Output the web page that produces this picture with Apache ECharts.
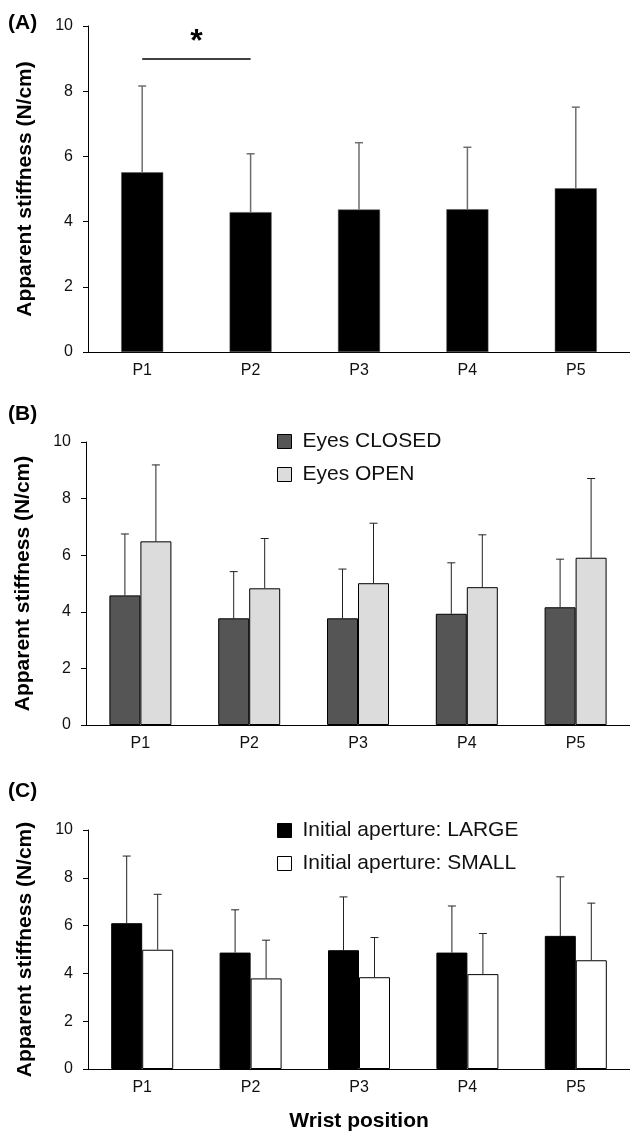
<!DOCTYPE html>
<html>
<head>
<meta charset="utf-8">
<script src="https://cdn.jsdelivr.net/npm/echarts@6/dist/echarts.min.js"></script>
<style>
  html, body { margin: 0; padding: 0; background: #fff; }
  #chart { width: 630px; height: 1133px; }
</style>
</head>
<body>
<div id="chart"></div>
<script>
// wrist positions
const categories = ['P1', 'P2', 'P3', 'P4', 'P5'];
const yTicks = [0, 2, 4, 6, 8, 10];

// (A) all trials: mean and top of error bar
const stiffAll = [5.51, 4.29, 4.37, 4.38, 5.02];
const stiffAllTop = [8.16, 6.08, 6.42, 6.28, 7.51];

// (B) eyes closed / open
const eyesClosed = [4.58, 3.77, 3.77, 3.93, 4.16];
const eyesClosedTop = [6.75, 5.42, 5.51, 5.73, 5.86];
const eyesOpen = [6.49, 4.83, 5.01, 4.87, 5.91];
const eyesOpenTop = [9.19, 6.59, 7.13, 6.72, 8.71];

// (C) initial aperture large / small
const apLarge = [6.10, 4.87, 4.97, 4.87, 5.57];
const apLargeTop = [8.91, 6.66, 7.20, 6.82, 8.04];
const apSmall = [4.99, 3.79, 3.84, 3.97, 4.55];
const apSmallTop = [7.31, 5.39, 5.50, 5.67, 6.94];

// significance P1 vs P2
const sigPair = ['P1', 'P2'];
const sigLevel = 9;

const font = "'Liberation Sans', Arial, Helvetica, sans-serif";
const chart = echarts.init(document.getElementById('chart'));

function errRender(offset, color, width) {
  return function (params, api) {
    const c = api.value(0);
    const hi = api.coord([c, api.value(1)]);
    const lo = api.coord([c, api.value(2)]);
    const x = hi[0] + offset;
    const st = { stroke: color, lineWidth: width };
    return {
      type: 'group',
      children: [
        { type: 'line', shape: { x1: x, y1: lo[1], x2: x, y2: hi[1] }, style: st },
        { type: 'line', shape: { x1: x - 4, y1: hi[1], x2: x + 4, y2: hi[1] }, style: st }
      ]
    };
  };
}

function errSeries(idx, means, tops, offset, color, width) {
  return {
    type: 'custom',
    xAxisIndex: idx,
    yAxisIndex: idx,
    renderItem: errRender(offset, color, width),
    encode: { x: 0, y: [1, 2] },
    data: categories.map((c, i) => [i, tops[i], means[i]]),
    z: 5,
    silent: true
  };
}

const grids = [
  { left: 88, right: 0, top: 26, height: 326 },
  { left: 86, right: 0, top: 442, height: 283 },
  { left: 88, right: 0, top: 830, height: 239 }
];

const xAxes = grids.map((g, i) => ({
  type: 'category',
  gridIndex: i,
  data: categories,
  axisLine: { lineStyle: { color: '#000', width: 1 } },
  axisTick: { alignWithLabel: true, length: 5, lineStyle: { color: '#000' } },
  axisLabel: { fontSize: 16, color: '#111', margin: 11, fontFamily: font },
  name: i === 2 ? 'Wrist position' : '',
  nameLocation: 'middle',
  nameGap: 42,
  nameTextStyle: { fontSize: 21, fontWeight: 'bold', color: '#000', fontFamily: font }
}));

const yAxes = grids.map((g, i) => ({
  type: 'value',
  gridIndex: i,
  min: yTicks[0],
  max: yTicks[yTicks.length - 1],
  interval: 2,
  splitLine: { show: false },
  axisLine: { show: true, lineStyle: { color: '#000', width: 1 } },
  axisTick: { show: true, length: 5, lineStyle: { color: '#000' } },
  axisLabel: { fontSize: 16, color: '#111', margin: 15, fontFamily: font },
  name: 'Apparent stiffness (N/cm)',
  nameLocation: 'middle',
  nameRotate: 90,
  nameGap: 52,
  nameTextStyle: { fontSize: 21, fontWeight: 'bold', color: '#000', fontFamily: font }
}));

const legendBase = {
  orient: 'vertical',
  left: 272,
  itemWidth: 14,
  itemHeight: 14,
  itemGap: 12,
  icon: 'rect',
  itemStyle: { borderColor: '#000', borderWidth: 1 },
  textStyle: { fontSize: 21, color: '#111', fontFamily: font, padding: [0, 0, 0, 6] }
};

chart.setOption({
  animation: false,
  backgroundColor: '#fff',
  textStyle: { fontFamily: font },
  grid: grids,
  xAxis: xAxes,
  yAxis: yAxes,
  legend: [
    Object.assign({}, legendBase, { top: 426, data: ['Eyes CLOSED', 'Eyes OPEN'] }),
    Object.assign({}, legendBase, { top: 815, data: ['Initial aperture: LARGE', 'Initial aperture: SMALL'] })
  ],
  graphic: [
    { type: 'text', left: 8, top: 13, style: { text: '(A)', font: 'bold 21px ' + font, fill: '#000' } },
    { type: 'text', left: 8, top: 404, style: { text: '(B)', font: 'bold 21px ' + font, fill: '#000' } },
    { type: 'text', left: 8, top: 781, style: { text: '(C)', font: 'bold 21px ' + font, fill: '#000' } }
  ],
  series: [
    {
      name: 'All',
      type: 'bar',
      xAxisIndex: 0,
      yAxisIndex: 0,
      barWidth: 42,
      data: stiffAll,
      itemStyle: { color: '#000', borderColor: '#555', borderWidth: 0.5 },
      markLine: {
        symbol: 'none',
        silent: true,
        lineStyle: { color: '#000', width: 1.5, type: 'solid' },
        label: {
          show: true,
          position: 'middle',
          formatter: '*',
          fontSize: 32,
          fontWeight: 'bold',
          color: '#000',
          distance: 0
        },
        data: [[{ coord: [sigPair[0], sigLevel] }, { coord: [sigPair[1], sigLevel] }]]
      }
    },
    errSeries(0, stiffAll, stiffAllTop, 0, '#6e6e6e', 1.5),

    {
      name: 'Eyes CLOSED',
      type: 'bar',
      xAxisIndex: 1,
      yAxisIndex: 1,
      barWidth: 31,
      barGap: '0%',
      data: eyesClosed,
      itemStyle: { color: '#555555', borderColor: '#000', borderWidth: 1 }
    },
    {
      name: 'Eyes OPEN',
      type: 'bar',
      xAxisIndex: 1,
      yAxisIndex: 1,
      barWidth: 31,
      barGap: '0%',
      data: eyesOpen,
      itemStyle: { color: '#dcdcdc', borderColor: '#000', borderWidth: 1 }
    },
    errSeries(1, eyesClosed, eyesClosedTop, -15.5, '#222', 1),
    errSeries(1, eyesOpen, eyesOpenTop, 15.5, '#222', 1),

    {
      name: 'Initial aperture: LARGE',
      type: 'bar',
      xAxisIndex: 2,
      yAxisIndex: 2,
      barWidth: 31,
      barGap: '0%',
      data: apLarge,
      itemStyle: { color: '#000', borderColor: '#000', borderWidth: 1 }
    },
    {
      name: 'Initial aperture: SMALL',
      type: 'bar',
      xAxisIndex: 2,
      yAxisIndex: 2,
      barWidth: 31,
      barGap: '0%',
      data: apSmall,
      itemStyle: { color: '#fff', borderColor: '#000', borderWidth: 1 }
    },
    errSeries(2, apLarge, apLargeTop, -15.5, '#222', 1),
    errSeries(2, apSmall, apSmallTop, 15.5, '#222', 1)
  ]
});
</script>
</body>
</html>
